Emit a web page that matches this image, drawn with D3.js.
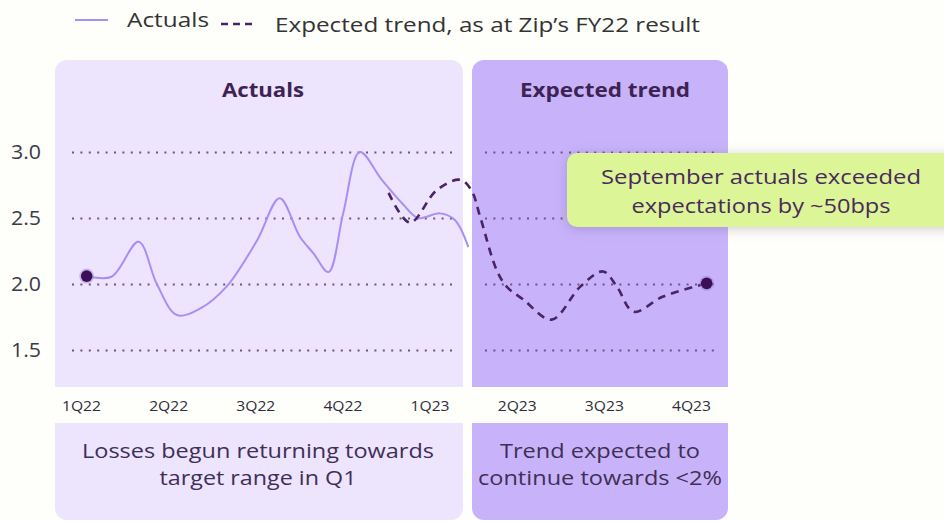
<!DOCTYPE html>
<html>
<head>
<meta charset="utf-8">
<script src="https://cdn.jsdelivr.net/npm/d3@7"></script>
<style>
  body { margin: 0; background: #fefefa; }
  svg { display: block; font-family: "Open Sans", Roboto, sans-serif; }
  .tick line { stroke: none; }
  .domain { display: none; }
  .grid .tick line { stroke: #6e5486; stroke-width: 2; stroke-dasharray: 2,6.4; }
  .grid text { display: none; }
</style>
</head>
<body>
<svg id="chart" width="944" height="521"></svg>
<script>
// quarter labels and y ticks
var quarters = ["1Q22", "2Q22", "3Q22", "4Q22", "1Q23", "2Q23", "3Q23", "4Q23"];
var yTicks = [1.5, 2.0, 2.5, 3.0];

// actuals (position in quarters from 1Q22, loss rate %)
var actualT = [0.065, 0.35, 0.66, 0.87, 1.10, 1.37, 1.67, 2.02, 2.28, 2.51, 2.67, 2.84, 3.01, 3.20, 3.45, 3.70, 3.87, 4.12, 4.29, 4.445];
var actualV = [2.06, 2.055, 2.32, 2.0, 1.765, 1.815, 1.98, 2.33, 2.65, 2.36, 2.23, 2.09, 2.54, 3.0, 2.79, 2.60, 2.50, 2.535, 2.485, 2.28];

// expected trend as at FY22 result
var expectT = [3.53, 3.775, 4.08, 4.35, 4.48, 4.58, 4.77, 4.885, 5.08, 5.40, 5.73, 5.99, 6.15, 6.34, 6.68, 7.18];
var expectV = [2.69, 2.465, 2.71, 2.79, 2.71, 2.51, 2.105, 1.98, 1.88, 1.73, 1.98, 2.095, 1.98, 1.79, 1.905, 2.005];

var svg = d3.select("#chart");

var x = d3.scaleLinear().domain([0, 7]).range([81, 691]);
var xLab = d3.scalePoint().domain(quarters).range([81, 691]);
var y = d3.scaleLinear().domain([1.5, 3.0]).range([350, 152]);

// stretch text to the width it has in the original
function fit(sel, w) {
  sel.attr("textLength", w).attr("lengthAdjust", "spacingAndGlyphs");
}

// panels
var panels = [
  {x: 55, w: 408, fill: "#ede4fd", title: "Actuals", cx: 263, tw: 82,
   note: ["Losses begun returning towards", "target range in Q1"], nx: 258, nw: [352, 197]},
  {x: 472, w: 256, fill: "#c8b3fa", title: "Expected trend", cx: 605, tw: 170,
   note: ["Trend expected to", "continue towards <2%"], nx: 600, nw: [200, 244]}
];

panels.forEach(function(p) {
  svg.append("rect").attr("x", p.x).attr("y", 60).attr("width", p.w).attr("height", 327)
    .attr("rx", 12).attr("fill", p.fill);
  svg.append("rect").attr("x", p.x).attr("y", 360).attr("width", p.w).attr("height", 27)
    .attr("fill", p.fill);
  svg.append("rect").attr("x", p.x).attr("y", 423).attr("width", p.w).attr("height", 97)
    .attr("rx", 12).attr("fill", p.fill);
  svg.append("rect").attr("x", p.x).attr("y", 423).attr("width", p.w).attr("height", 20)
    .attr("fill", p.fill);

  svg.append("text").attr("x", p.cx).attr("y", 97).attr("text-anchor", "middle")
    .attr("font-size", 19).attr("font-weight", "bold").attr("fill", "#3e2352")
    .text(p.title).call(fit, p.tw);

  p.note.forEach(function(line, i) {
    svg.append("text").attr("x", p.nx).attr("y", 458 + i * 27).attr("text-anchor", "middle")
      .attr("font-size", 20).attr("fill", "#3f2f55").text(line).call(fit, p.nw[i]);
  });
});

// dotted gridlines, one set per panel
svg.append("g").attr("class", "grid").attr("transform", "translate(72,0)")
  .call(d3.axisRight(y).tickValues(yTicks).tickSize(384));
svg.append("g").attr("class", "grid").attr("transform", "translate(485,0)")
  .call(d3.axisRight(y).tickValues(yTicks).tickSize(232));

// y axis labels
svg.append("g").attr("transform", "translate(41,0)")
  .call(d3.axisLeft(y).tickValues(yTicks).tickSize(0).tickPadding(0).tickFormat(d3.format(".1f")))
  .selectAll("text").attr("font-size", 20).attr("fill", "#3a3a48").attr("font-family", "'Open Sans'")
  .call(fit, 30);

// x axis labels
svg.append("g").attr("transform", "translate(0,400)")
  .call(d3.axisBottom(xLab).tickSize(0).tickPadding(0))
  .selectAll("text").attr("font-size", 15).attr("fill", "#2e2e3a").attr("font-family", "'Open Sans'")
  .attr("dy", "0.71em").call(fit, 39);

var line = d3.line()
  .x(function(d) { return x(d[0]); })
  .y(function(d) { return y(d[1]); })
  .curve(d3.curveCatmullRom.alpha(0.5));

var actual = d3.zip(actualT, actualV);
var expect = d3.zip(expectT, expectV);

svg.append("path").attr("d", line(actual)).attr("fill", "none")
  .attr("stroke", "#a88ff6").attr("stroke-width", 2);

svg.append("path").attr("d", line(expect)).attr("fill", "none")
  .attr("stroke", "#4a2463").attr("stroke-width", 2.6).attr("stroke-dasharray", "8,6");

// end dots
[actual[0], expect[expect.length - 1]].forEach(function(d) {
  svg.append("circle").attr("cx", x(d[0])).attr("cy", y(d[1])).attr("r", 7.5)
    .attr("fill", "#9e7fd6").attr("opacity", 0.45);
  svg.append("circle").attr("cx", x(d[0])).attr("cy", y(d[1])).attr("r", 5.8)
    .attr("fill", "#3a0f58");
});

// callout
svg.append("rect").attr("x", 567).attr("y", 153).attr("width", 400).attr("height", 74)
  .attr("rx", 10).attr("fill", "#dcf597")
  .style("filter", "drop-shadow(0px 2px 6px rgba(80,60,120,0.25))");
[["September actuals exceeded", 320], ["expectations by ~50bps", 259]].forEach(function(t, i) {
  svg.append("text").attr("x", 761).attr("y", 184 + i * 29).attr("text-anchor", "middle")
    .attr("font-size", 20).attr("fill", "#4a2a5c").text(t[0]).call(fit, t[1]);
});

// legend
var leg = svg.append("g");
leg.append("line").attr("x1", 75).attr("x2", 108).attr("y1", 20).attr("y2", 20)
  .attr("stroke", "#a88ff6").attr("stroke-width", 2);
leg.append("text").attr("x", 127).attr("y", 27).attr("font-size", 20).attr("fill", "#333")
  .text("Actuals").call(fit, 82);
leg.append("line").attr("x1", 221).attr("x2", 254).attr("y1", 24).attr("y2", 24)
  .attr("stroke", "#4a2463").attr("stroke-width", 2.5).attr("stroke-dasharray", "7,5");
leg.append("text").attr("x", 275).attr("y", 32).attr("font-size", 20).attr("fill", "#333")
  .text("Expected trend, as at Zip\u2019s FY22 result").call(fit, 425);
</script>
</body>
</html>
